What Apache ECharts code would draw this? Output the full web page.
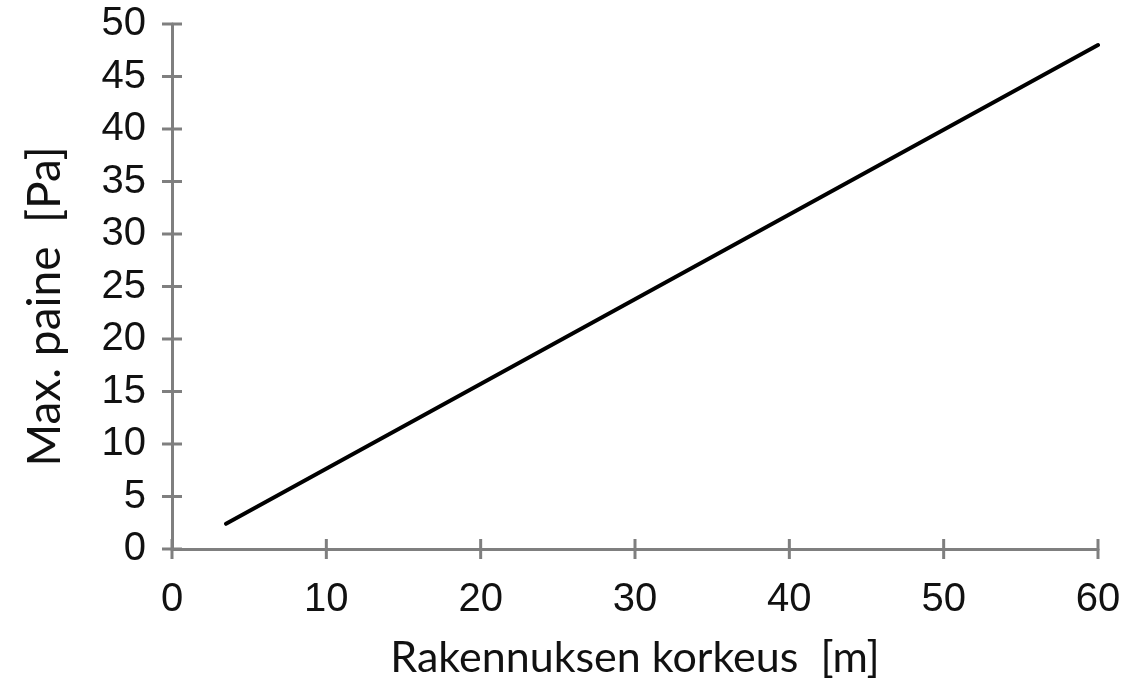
<!DOCTYPE html>
<html>
<head>
<meta charset="utf-8">
<script src="https://cdn.jsdelivr.net/npm/echarts@6/dist/echarts.min.js"></script>
<style>html,body{margin:0;padding:0;background:#fff}#c{width:1137px;height:685px}</style>
</head>
<body>
<div id="c"></div>
<script>
const heightM = [3.5, 60];
const pressurePa = [2.4, 48];
const xTicks = [0, 10, 20, 30, 40, 50, 60];
const yTicks = [0, 5, 10, 15, 20, 25, 30, 35, 40, 45, 50];
const xTitle = 'Rakennuksen korkeus  [m]';
const yTitle = 'Max. paine  [Pa]';

const chart = echarts.init(document.getElementById('c'));
const axisCol = '#7f7f7f';
const lab = {color:'#111', fontFamily:'Liberation Sans, Arial, sans-serif', fontSize:40};
const pts = heightM.map((x,i)=>[x, pressurePa[i]]);
const tickLen = 10;
function tickItem(isX) {
  return function(params, api) {
    const v = api.value(0);
    const p = isX ? api.coord([v, 0]) : api.coord([0, v]);
    const shape = isX
      ? {x1:p[0], y1:p[1]-tickLen, x2:p[0], y2:p[1]+tickLen}
      : {x1:p[0]-tickLen, y1:p[1], x2:p[0]+tickLen, y2:p[1]};
    return {type:'line', shape:shape, style:{stroke:axisCol, lineWidth:3}};
  };
}
chart.setOption({
  animation:false,
  grid:{left:172, right:39, top:24, bottom:134},
  xAxis:{type:'value', min:0, max:xTicks[xTicks.length-1], interval:10,
     axisLine:{onZero:false, lineStyle:{color:axisCol, width:3}},
     axisTick:{show:false},
     splitLine:{show:false},
     axisLabel:Object.assign({margin:31}, lab),
     name:xTitle, nameLocation:'middle', nameGap:88,
     nameTextStyle:{fontFamily:'Lato, sans-serif', fontSize:43, color:'#111'}},
  yAxis:{type:'value', min:0, max:yTicks[yTicks.length-1], interval:5,
     axisLine:{show:true, onZero:false, lineStyle:{color:axisCol, width:3}},
     axisTick:{show:false},
     splitLine:{show:false},
     axisLabel:Object.assign({margin:26}, lab),
     name:yTitle, nameLocation:'middle', nameGap:104, nameRotate:90,
     nameTextStyle:{fontFamily:'Lato, sans-serif', fontSize:46, color:'#111', padding:[0,40,0,0]}},
  series:[{
    type:'line', data: pts,
    symbol:'none', lineStyle:{color:'#000', width:4, cap:'round'}, z:5
  },{
    type:'custom', clip:false, silent:true, z:3,
    data: xTicks.map(v=>[v]), renderItem: tickItem(true)
  },{
    type:'custom', clip:false, silent:true, z:3,
    data: yTicks.map(v=>[v]), renderItem: tickItem(false)
  }]
});
</script>
</body>
</html>
